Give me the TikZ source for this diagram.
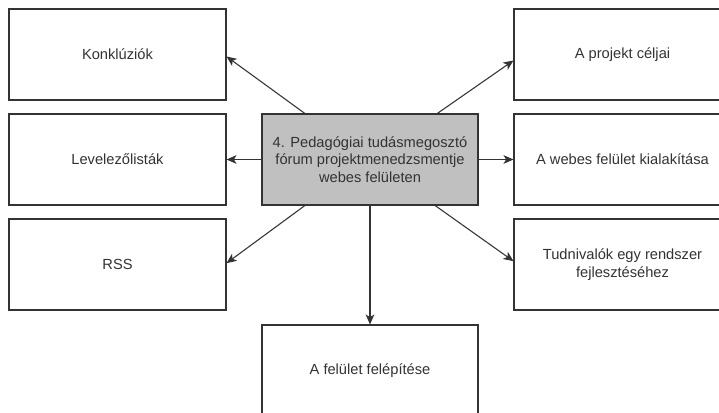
\documentclass[tikz,border=0pt]{standalone}
\usepackage{fontspec}
\setmainfont{Liberation Sans}
\usetikzlibrary{arrows.meta,calc}
\definecolor{linec}{HTML}{333333}
\definecolor{textc}{HTML}{333333}
\definecolor{centerfill}{HTML}{C0C0C0}
\tikzset{
  box/.style={draw=linec, line width=0.8pt, fill=white, minimum width=162.75pt, minimum height=68.25pt,
    inner sep=0pt, align=center, text=textc, font=\fontsize{11}{13}\selectfont},
  mainbox/.style={box, fill=centerfill, minimum width=162pt},
  conn/.style={draw=linec, line width=0.8pt, -{Stealth[length=7.5pt,width=6.5pt,inset=2pt]}}
}
\begin{document}
\begin{tikzpicture}[x=0.75pt,y=-0.75pt]
\clip (0,0) rectangle (719,412);
\fill[white] (0,0) rectangle (719,412);
\node[box] (k) at (117.5,54.5) {Konklúziók};
\node[box] (l) at (117.5,159.5) {Levelezőlisták};
\node[box] (r) at (117.5,264.5) {RSS};
\node[box] (p) at (622.5,54.5) {A projekt céljai};
\node[box] (w) at (622.5,159.5) {A webes felület kialakítása};
\node[box] (t) at (622.5,264.5) {Tudnivalók egy rendszer\\fejlesztéséhez};
\node[mainbox] (c) at (370,159.5) {4. Pedagógiai tudásmegosztó\\fórum projektmenedzsmentje\\webes felületen};
\node[box, minimum width=162pt] (f) at (370,370.5) {A felület felépítése};
\coordinate (ktip) at ([yshift=-1.5pt]k.east);
\coordinate (ptip) at ([yshift=-4.5pt]p.west);
\coordinate (rtip) at ([yshift=1pt]r.east);
\coordinate (ttip) at ([yshift=2.5pt]t.west);
\draw[conn] ($(c.north west)!0.2!(c.north east)$) -- (ktip);
\draw[conn] ($(c.north west)!0.81!(c.north east)$) -- (ptip);
\draw[conn] (c.west) -- (l.east);
\draw[conn] (c.east) -- (w.west);
\draw[conn] ($(c.south west)!0.2!(c.south east)$) -- (rtip);
\draw[conn] ($(c.south west)!0.8!(c.south east)$) -- (ttip);
\draw[conn] (c.south) -- (f.north);
\end{tikzpicture}
\end{document}
